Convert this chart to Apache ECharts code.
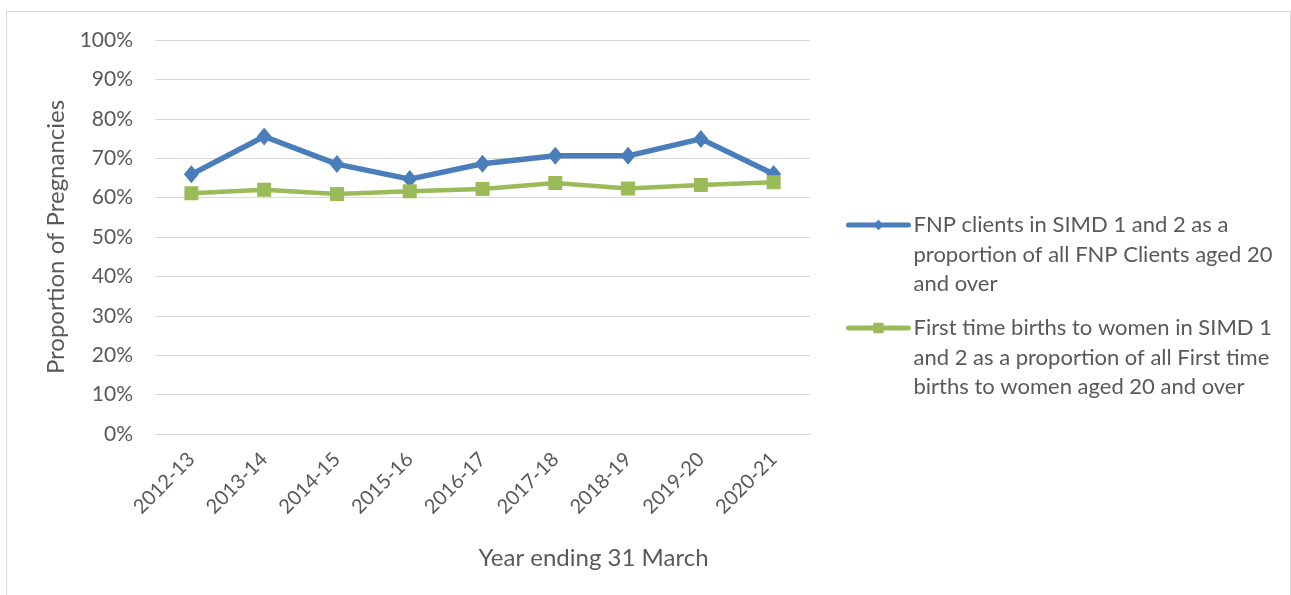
<!DOCTYPE html>
<html>
<head>
<meta charset="utf-8">
<script src="https://cdn.jsdelivr.net/npm/echarts@6/dist/echarts.min.js"></script>
<style>
  html, body { margin: 0; padding: 0; background: #fff; overflow: hidden; }
  #frame { position: absolute; left: 6px; top: 11px; width: 1285px; height: 600px; border: 1px solid #d9d9d9; box-sizing: border-box; }
  #chart { position: absolute; left: 0; top: 0; width: 1291px; height: 595px; }
</style>
</head>
<body>
<div id="frame"></div>
<div id="chart"></div>
<script>
// Financial years shown on the category axis
const years = ['2012-13', '2013-14', '2014-15', '2015-16', '2016-17', '2017-18', '2018-19', '2019-20', '2020-21'];

// FNP clients in SIMD 1 and 2, % of all FNP clients aged 20+
const fnpClients = [65.9, 75.5, 68.5, 64.7, 68.6, 70.6, 70.6, 74.9, 66.0];

// First time births in SIMD 1 and 2, % of all first time births to women aged 20+
const firstBirths = [61.1, 62.0, 60.9, 61.6, 62.2, 63.7, 62.3, 63.2, 63.9];

const seriesNames = [
  'FNP clients in SIMD 1 and 2 as a\nproportion of all FNP Clients aged 20\nand over',
  'First time births to women in SIMD 1\nand 2 as a proportion of all First time\nbirths to women aged 20 and over'
];

const blue = '#4a7ebb';
const green = '#9bbb59';
const font = 'Lato, "Open Sans", sans-serif';
const textColor = '#595959';
const lineH = 29.5;

// One legend block per series; two blank lines ahead of the text put the icon beside its first line
function legendBlock(name, top) {
  return {
    orient: 'vertical',
    left: 846,
    top: top,
    padding: 0,
    itemWidth: 60,
    itemHeight: 13,
    lineStyle: { width: 5, cap: 'round' },
    formatter: n => '\n\n' + n,
    textStyle: { fontFamily: font, fontSize: 22, color: textColor, lineHeight: lineH },
    data: [name]
  };
}

const chart = echarts.init(document.getElementById('chart'), null, { renderer: 'canvas' });
chart.setOption({
  animation: false,
  textStyle: { fontFamily: font, color: textColor },
  grid: { left: 155, right: 481, top: 40, bottom: 161, containLabel: false },
  legend: [
    legendBlock(seriesNames[0], 225 - lineH * 2.5),
    legendBlock(seriesNames[1], 328 - lineH * 2.5)
  ],
  xAxis: {
    type: 'category',
    data: years,
    boundaryGap: true,
    axisLine: { show: true, lineStyle: { color: '#d9d9d9', width: 1 } },
    axisTick: { show: false },
    axisLabel: { rotate: 45, fontSize: 20, color: textColor, margin: 22, fontFamily: font },
    name: 'Year ending 31 March',
    nameLocation: 'middle',
    nameGap: 112,
    nameTextStyle: { fontSize: 24, color: textColor, fontFamily: font, padding: [0, 0, 0, 222] }
  },
  yAxis: {
    type: 'value',
    min: 0,
    max: 100,
    interval: 10,
    axisLine: { show: false },
    axisTick: { show: false },
    splitLine: { lineStyle: { color: '#d9d9d9', width: 1 } },
    axisLabel: { formatter: '{value}%', fontSize: 21, color: textColor, margin: 22, fontFamily: font },
    name: 'Proportion of Pregnancies',
    nameLocation: 'middle',
    nameGap: 85,
    nameTextStyle: { fontSize: 24, color: textColor, fontFamily: font }
  },
  series: [
    {
      name: seriesNames[0],
      type: 'line',
      data: fnpClients,
      symbol: 'diamond',
      symbolSize: [15, 18],
      lineStyle: { color: blue, width: 5.5, join: 'round' },
      itemStyle: { color: blue },
      z: 2
    },
    {
      name: seriesNames[1],
      type: 'line',
      data: firstBirths,
      symbol: 'rect',
      symbolSize: 14,
      lineStyle: { color: green, width: 4.5, join: 'round' },
      itemStyle: { color: green },
      z: 3
    }
  ]
});
</script>
</body>
</html>
